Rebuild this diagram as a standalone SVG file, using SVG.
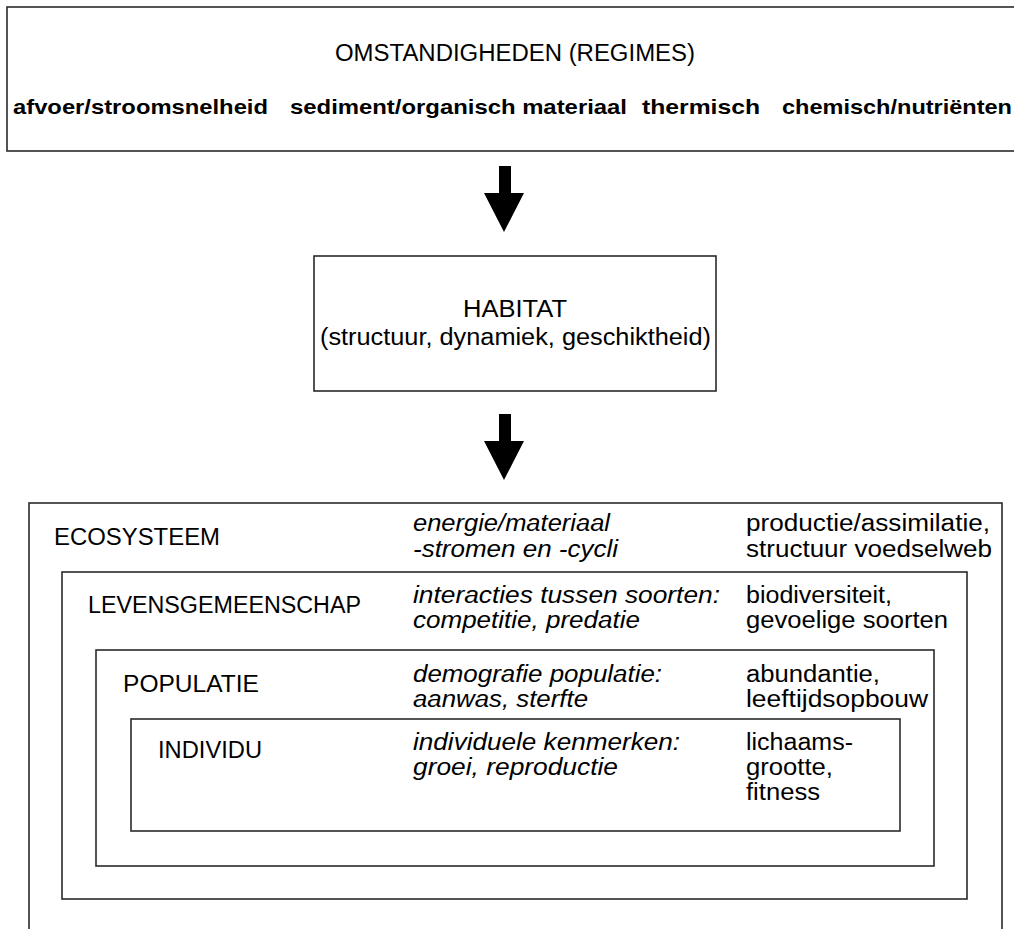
<svg xmlns="http://www.w3.org/2000/svg" width="1014" height="929" viewBox="0 0 1014 929">
<style>
.box{fill:#fff;stroke:#2a2a2a;stroke-width:1.6}
.t{font-family:"Liberation Sans",Arial,sans-serif;font-size:23px;fill:#000}
.b{font-weight:bold;font-size:21px}
.i{font-style:italic}
.arrow{fill:#000}
</style>
<rect width="1014" height="929" fill="#fff"/>
<g id="omstandigheden">
<rect class="box" x="7" y="7" width="1020" height="144"/>
<text class="t" x="335" y="61" textLength="360" lengthAdjust="spacingAndGlyphs">OMSTANDIGHEDEN (REGIMES)</text>
<text class="t b" x="13" y="114" textLength="255" lengthAdjust="spacingAndGlyphs">afvoer/stroomsnelheid</text>
<text class="t b" x="290" y="114" textLength="337" lengthAdjust="spacingAndGlyphs">sediment/organisch materiaal</text>
<text class="t b" x="642" y="114" textLength="118" lengthAdjust="spacingAndGlyphs">thermisch</text>
<text class="t b" x="782" y="114" textLength="230" lengthAdjust="spacingAndGlyphs">chemisch/nutriënten</text>
</g>
<g id="habitat">
<rect class="box" x="314" y="256" width="402" height="135"/>
<text class="t" x="463" y="317" textLength="104" lengthAdjust="spacingAndGlyphs">HABITAT</text>
<text class="t" x="320" y="345" textLength="391" lengthAdjust="spacingAndGlyphs">(structuur, dynamiek, geschiktheid)</text>
</g>
<g id="ecosysteem">
<rect class="box" x="29" y="503" width="973" height="440"/>
<text class="t" x="54" y="545" textLength="166" lengthAdjust="spacingAndGlyphs">ECOSYSTEEM</text>
<text class="t i" x="413" y="531" textLength="197" lengthAdjust="spacingAndGlyphs">energie/materiaal</text>
<text class="t i" x="413" y="557" textLength="205" lengthAdjust="spacingAndGlyphs">-stromen en -cycli</text>
<text class="t" x="746" y="531" textLength="244" lengthAdjust="spacingAndGlyphs">productie/assimilatie,</text>
<text class="t" x="746" y="557" textLength="246" lengthAdjust="spacingAndGlyphs">structuur voedselweb</text>
</g>
<g id="levensgemeenschap">
<rect class="box" x="62" y="572" width="905" height="327"/>
<text class="t" x="88" y="613" textLength="273" lengthAdjust="spacingAndGlyphs">LEVENSGEMEENSCHAP</text>
<text class="t i" x="413" y="603" textLength="307" lengthAdjust="spacingAndGlyphs">interacties tussen soorten:</text>
<text class="t i" x="413" y="628" textLength="227" lengthAdjust="spacingAndGlyphs">competitie, predatie</text>
<text class="t" x="746" y="603" textLength="146" lengthAdjust="spacingAndGlyphs">biodiversiteit,</text>
<text class="t" x="746" y="628" textLength="202" lengthAdjust="spacingAndGlyphs">gevoelige soorten</text>
</g>
<g id="populatie">
<rect class="box" x="96" y="650" width="838" height="216"/>
<text class="t" x="123" y="692" textLength="136" lengthAdjust="spacingAndGlyphs">POPULATIE</text>
<text class="t i" x="413" y="682" textLength="249" lengthAdjust="spacingAndGlyphs">demografie populatie:</text>
<text class="t i" x="413" y="707" textLength="175" lengthAdjust="spacingAndGlyphs">aanwas, sterfte</text>
<text class="t" x="746" y="682" textLength="134" lengthAdjust="spacingAndGlyphs">abundantie,</text>
<text class="t" x="746" y="707" textLength="182" lengthAdjust="spacingAndGlyphs">leeftijdsopbouw</text>
</g>
<g id="individu">
<rect class="box" x="131" y="719" width="769" height="112"/>
<text class="t" x="158" y="758" textLength="104" lengthAdjust="spacingAndGlyphs">INDIVIDU</text>
<text class="t i" x="413" y="750" textLength="267" lengthAdjust="spacingAndGlyphs">individuele kenmerken:</text>
<text class="t i" x="413" y="775" textLength="205" lengthAdjust="spacingAndGlyphs">groei, reproductie</text>
<text class="t" x="746" y="750" textLength="107" lengthAdjust="spacingAndGlyphs">lichaams-</text>
<text class="t" x="746" y="775" textLength="87" lengthAdjust="spacingAndGlyphs">grootte,</text>
<text class="t" x="746" y="800" textLength="74" lengthAdjust="spacingAndGlyphs">fitness</text>
</g>
<g id="connectors">
<polygon class="arrow" points="499,166 511,166 511,193 524,193 504,232 484,193 499,193"/>
<polygon class="arrow" points="499,414 511,414 511,441 524,441 504,480 484,441 499,441"/>
</g>
</svg>
